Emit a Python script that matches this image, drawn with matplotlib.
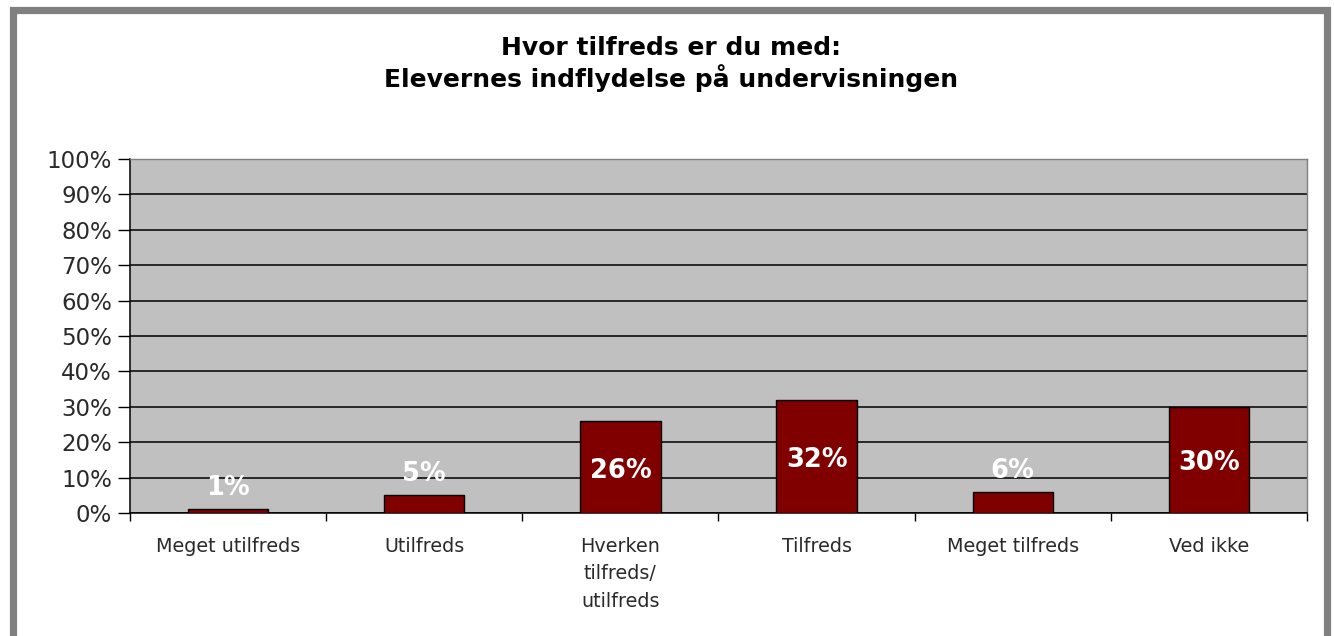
import matplotlib
matplotlib.use("Agg")
import matplotlib.pyplot as plt
from matplotlib.patches import Rectangle

categories = ["Meget utilfreds", "Utilfreds", "Hverken\ntilfreds/\nutilfreds",
              "Tilfreds", "Meget tilfreds", "Ved ikke"]
values = [1, 5, 26, 32, 6, 30]
labels = ["1%", "5%", "26%", "32%", "6%", "30%"]
yticks = list(range(0, 101, 10))

fig = plt.figure(figsize=(13.34, 6.36), dpi=100)
fig.patch.set_facecolor("white")

# grey frame round the chart (bottom edge falls outside the picture)
fig.add_artist(Rectangle((12.5 / 1334, -0.05), 1314 / 1334, 1.05 - 10 / 636,
                         transform=fig.transFigure, fill=False,
                         edgecolor="#808080", linewidth=5.2, clip_on=False))

ax = fig.add_axes([130 / 1334, 1 - 513 / 636, 1177 / 1334, 354 / 636])
ax.set_facecolor("#C0C0C0")

x = list(range(len(categories)))
ax.bar(x, values, width=0.41, color="#800000", edgecolor="black",
       linewidth=1, zorder=3)

for xi, v, lab in zip(x, values, labels):
    y = v + 6 if v < 10 else v / 2 - 1
    ax.text(xi, y, lab, ha="center", va="center", color="white",
            fontsize=18.5, fontweight="bold", zorder=4)

ax.set_xlim(-0.5, len(categories) - 0.5)
ax.set_ylim(0, 100)
ax.set_yticks(yticks)
ax.set_yticklabels([f"{t}%" for t in yticks], fontsize=16.5, color="#2a2a2a")
ax.yaxis.grid(True, color="black", linewidth=1.1, zorder=1)
ax.set_axisbelow(True)

ax.set_xticks(x)
ax.set_xticklabels(categories, fontsize=13.8, color="#2a2a2a", linespacing=1.58)
ax.set_xticks([i - 0.5 for i in range(len(categories) + 1)], minor=True)
ax.tick_params(axis="x", which="major", length=0, pad=17)
ax.tick_params(axis="x", which="minor", length=6, direction="out", width=1)
ax.tick_params(axis="y", length=9, width=1, direction="out", pad=4)

for side in ["left", "bottom"]:
    ax.spines[side].set_color("black")
    ax.spines[side].set_linewidth(1.1)
for side in ["top", "right"]:
    ax.spines[side].set_color("#808080")
    ax.spines[side].set_linewidth(1)

fig.text(0.503, 1 - 64 / 636,
         "Hvor tilfreds er du med:\nElevernes indflydelse på undervisningen",
         ha="center", va="center", fontsize=18, fontweight="bold",
         linespacing=1.2)

fig.savefig("out.png", dpi=100)
